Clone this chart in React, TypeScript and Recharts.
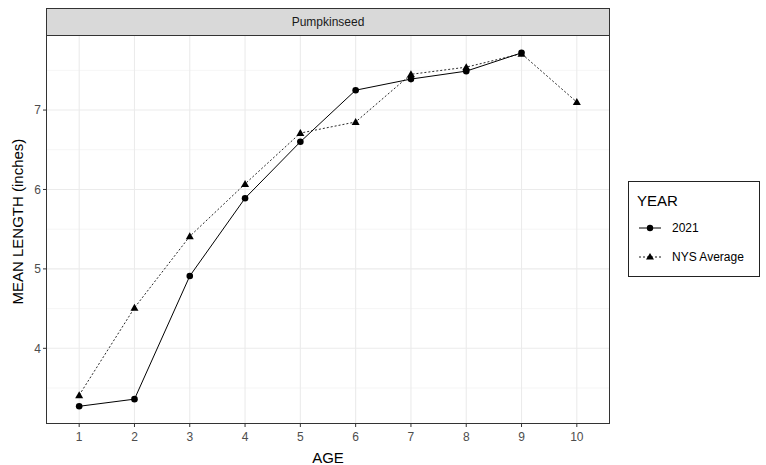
import React from 'react';
import { LineChart, Line, XAxis, YAxis, CartesianGrid } from 'recharts';

const ages = [1, 2, 3, 4, 5, 6, 7, 8, 9, 10];
const year2021 = [3.27, 3.36, 4.91, 5.89, 6.6, 7.25, 7.39, 7.49, 7.72, null];
const nysAverage = [3.41, 4.51, 5.41, 6.07, 6.71, 6.85, 7.45, 7.54, 7.71, 7.1];
const yTicks = [4, 5, 6, 7];
const yMinor = [3.5, 4.5, 5.5, 6.5, 7.5];

const data = ages.map((age, i) => ({ age, y2021: year2021[i], nys: nysAverage[i] }));

const FONT = '"Liberation Sans", Arial, sans-serif';

const Circle = (props: any) => {
  const { cx, cy, index, value } = props;
  if (value == null || cx == null || cy == null) return <g key={`c${index}`} />;
  return <circle key={`c${index}`} cx={cx} cy={cy} r={3.3} fill="#000" stroke="none" />;
};

const Triangle = (props: any) => {
  const { cx, cy, index, value } = props;
  if (value == null || cx == null || cy == null) return <g key={`t${index}`} />;
  const s = 4;
  return (
    <path
      key={`t${index}`}
      d={`M${cx},${cy - s} L${cx + s},${cy + s * 0.75} L${cx - s},${cy + s * 0.75} Z`}
      fill="#000"
    />
  );
};

export default function App() {
  return (
    <div style={{ position: 'absolute', left: 0, top: 0, width: 766, height: 465, background: '#fff', fontFamily: FONT }}>
      <LineChart width={766} height={465} data={data} margin={{ top: 35, right: 156, bottom: 0, left: 0 }}>
        <CartesianGrid horizontalValues={yMinor} vertical={false} stroke="#F3F3F3" strokeWidth={0.8} />
        <CartesianGrid horizontalValues={yTicks} verticalValues={ages} stroke="#EBEBEB" strokeWidth={1.1} />
        <XAxis
          dataKey="age"
          type="number"
          domain={[0.4, 10.6]}
          ticks={ages}
          allowDataOverflow
          height={41}
          axisLine={false}
          tickSize={3}
          tickLine={{ stroke: '#333' }}
          tick={{ fill: '#4D4D4D', fontSize: 12, fontFamily: FONT, dy: 3 }}
          label={{ value: 'AGE', position: 'insideBottom', offset: 2, fill: '#000', fontSize: 15, fontFamily: FONT }}
        />
        <YAxis
          type="number"
          domain={[3.047, 7.945]}
          ticks={yTicks}
          allowDataOverflow
          width={46}
          axisLine={false}
          tickSize={3}
          tickLine={{ stroke: '#333' }}
          tick={{ fill: '#4D4D4D', fontSize: 12, fontFamily: FONT }}
          label={{ value: 'MEAN LENGTH (inches)', angle: -90, position: 'insideLeft', offset: 18, dy: 75, fill: '#000', fontSize: 15, fontFamily: FONT }}
        />
        <Line
          dataKey="nys"
          stroke="#111"
          strokeWidth={0.9}
          strokeDasharray="2 2"
          dot={Triangle}
          activeDot={false}
          isAnimationActive={false}
        />
        <Line
          dataKey="y2021"
          stroke="#000"
          strokeWidth={1}
          dot={Circle}
          activeDot={false}
          connectNulls={false}
          isAnimationActive={false}
        />
      </LineChart>
      {/* panel border */}
      <div style={{ position: 'absolute', left: 46, top: 35, width: 564, height: 389, border: '1px solid #333', boxSizing: 'border-box', pointerEvents: 'none' }} />
      {/* facet strip */}
      <div style={{ position: 'absolute', left: 46, top: 8, width: 564, height: 28, background: '#D9D9D9', border: '1px solid #333', boxSizing: 'border-box', display: 'flex', alignItems: 'center', justifyContent: 'center', fontSize: 12, color: '#1A1A1A' }}>
        Pumpkinseed
      </div>
      {/* legend */}
      <div style={{ position: 'absolute', left: 628, top: 181, width: 132, height: 96, border: '1px solid #222', boxSizing: 'border-box' }}>
        <div style={{ position: 'absolute', left: 8, top: 10, fontSize: 15, color: '#000' }}>YEAR</div>
        <svg style={{ position: 'absolute', left: 9, top: 40 }} width={24} height={12}>
          <line x1={1} y1={6} x2={23} y2={6} stroke="#000" strokeWidth={1} />
          <circle cx={12} cy={6} r={3.2} fill="#000" />
        </svg>
        <div style={{ position: 'absolute', left: 43, top: 39, fontSize: 12, color: '#000' }}>2021</div>
        <svg style={{ position: 'absolute', left: 9, top: 69 }} width={24} height={12}>
          <line x1={1} y1={6} x2={23} y2={6} stroke="#000" strokeWidth={0.9} strokeDasharray="2 2" />
          <path d="M12,2 L16,8.6 L8,8.6 Z" fill="#000" />
        </svg>
        <div style={{ position: 'absolute', left: 43, top: 68, fontSize: 12, color: '#000' }}>NYS Average</div>
      </div>
    </div>
  );
}
